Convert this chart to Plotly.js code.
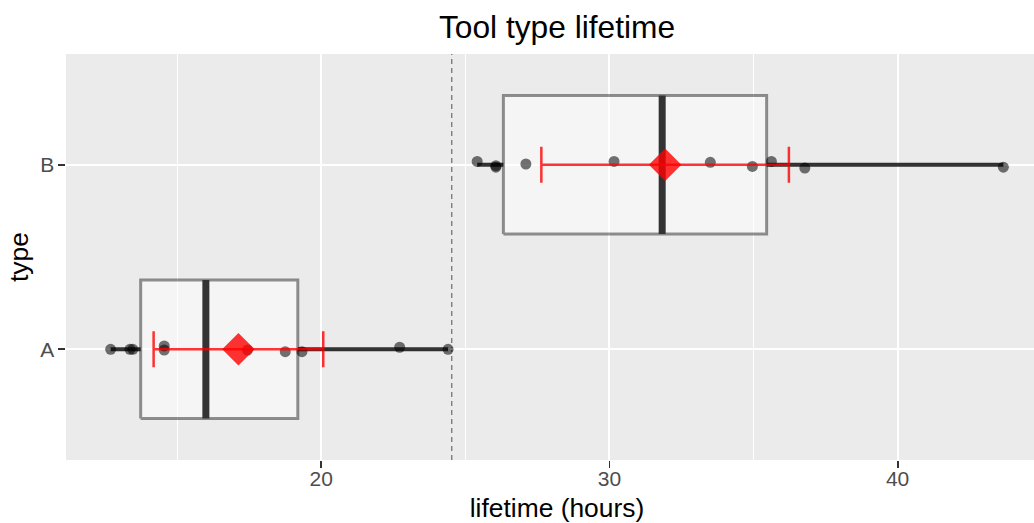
<!DOCTYPE html>
<html>
<head>
<meta charset="utf-8">
<script src="https://cdn.plot.ly/plotly-3.0.1.min.js"></script>
<style>
  html, body { margin: 0; padding: 0; overflow: hidden; background: #ffffff; }
  #chart { width: 1061px; height: 523px; }
</style>
</head>
<body>
<div id="chart"></div>
<script>
// Tool lifetimes (hours) for the two tool types
const categories = ['A', 'B'];
const lifetimeA = [12.69, 13.36, 13.46, 14.55, 14.55, 17.44, 18.75, 19.33, 22.72, 24.40];
const lifetimeB = [25.41, 26.06, 26.06, 27.10, 30.16, 33.50, 34.96, 35.62, 36.78, 43.67];
// vertical jitter of each observation (in category units)
const jitterA = [0, 0, 0, 0.018, -0.004, -0.004, -0.013, -0.013, 0.011, 0];
const jitterB = [0.018, -0.013, -0.005, 0.004, 0.018, 0.013, -0.009, 0.018, -0.018, -0.013];

const groups = [lifetimeA, lifetimeB];
const jitters = [jitterA, jitterB];

// Student t, 97.5% quantile with 9 degrees of freedom (n = 10 per type)
const T975_DF9 = 2.262157;

function quantile(sorted, p) {
  const h = (sorted.length - 1) * p;
  const lo = Math.floor(h);
  const hi = Math.min(lo + 1, sorted.length - 1);
  return sorted[lo] + (h - lo) * (sorted[hi] - sorted[lo]);
}
function mean(v) { return v.reduce((a, b) => a + b, 0) / v.length; }
function sd(v) {
  const m = mean(v);
  return Math.sqrt(v.reduce((a, b) => a + (b - m) * (b - m), 0) / (v.length - 1));
}
function boxStats(v) {
  const s = v.slice().sort((a, b) => a - b);
  const q1 = quantile(s, 0.25), med = quantile(s, 0.5), q3 = quantile(s, 0.75);
  const iqr = q3 - q1;
  const inside = s.filter(x => x >= q1 - 1.5 * iqr && x <= q3 + 1.5 * iqr);
  return { q1, med, q3, lo: inside[0], hi: inside[inside.length - 1] };
}

const HALF = 0.375; // half of the box thickness
const traces = [];

groups.forEach((vals, i) => {
  const y = i + 1;
  const b = boxStats(vals);
  // box body
  traces.push({
    type: 'scatter', mode: 'lines',
    x: [b.q1, b.q3, b.q3, b.q1, b.q1],
    y: [y - HALF, y - HALF, y + HALF, y + HALF, y - HALF],
    fill: 'toself', fillcolor: 'rgba(255,255,255,0.5)',
    line: { color: 'rgba(0,0,0,0.42)', width: 3 },
    hoverinfo: 'skip'
  });
  // whiskers
  traces.push({
    type: 'scatter', mode: 'lines',
    x: [b.lo, b.q1, null, b.q3, b.hi],
    y: [y, y, null, y, y],
    connectgaps: false,
    line: { color: 'rgba(0,0,0,0.8)', width: 4 },
    hoverinfo: 'skip'
  });
  // median
  traces.push({
    type: 'scatter', mode: 'lines',
    x: [b.med, b.med],
    y: [y - HALF, y + HALF],
    line: { color: '#333333', width: 7 },
    hoverinfo: 'skip'
  });
});

// individual observations
const px = [], py = [];
groups.forEach((vals, i) => {
  vals.forEach((v, k) => { px.push(v); py.push(i + 1 + jitters[i][k]); });
});
traces.push({
  type: 'scatter', mode: 'markers',
  x: px, y: py,
  marker: { color: 'rgba(0,0,0,0.55)', size: 11 },
  hoverinfo: 'skip'
});

// group means with 95% confidence intervals
const means = groups.map(mean);
const cis = groups.map(v => T975_DF9 * sd(v) / Math.sqrt(v.length));
traces.push({
  type: 'scatter', mode: 'markers',
  x: means, y: [1, 2],
  marker: { symbol: 'diamond', size: 25, color: 'rgba(255,0,0,0.8)' },
  error_x: { type: 'data', array: cis, symmetric: true, visible: true,
             color: 'rgba(255,0,0,0.8)', thickness: 2.5, width: 18 },
  hoverinfo: 'skip'
});

const all = lifetimeA.concat(lifetimeB);
const grandMean = mean(all);
const dmin = Math.min(...all), dmax = Math.max(...all);
const pad = 0.05 * (dmax - dmin);

const font = 'Liberation Sans, Arial, Helvetica, sans-serif';

const layout = {
  width: 1061, height: 523,
  margin: { l: 66, r: 13, t: 54, b: 63 },
  paper_bgcolor: '#ffffff',
  plot_bgcolor: '#ebebeb',
  showlegend: false,
  font: { family: font, color: '#000000' },
  title: {
    text: 'Tool type lifetime',
    font: { family: font, size: 31.7, color: '#000000' },
    x: 0.5, xref: 'paper', xanchor: 'center',
    y: 1 - 27 / 523, yref: 'container', yanchor: 'middle'
  },
  xaxis: {
    range: [dmin - pad, dmax + pad],
    tick0: 0, dtick: 10,
    ticks: 'outside', ticklen: 6.6, tickwidth: 1.8, tickcolor: '#333333',
    ticklabelstandoff: -7,
    tickfont: { family: font, size: 21, color: '#4d4d4d' },
    showgrid: true, gridcolor: '#ffffff', gridwidth: 2,
    minor: { dtick: 5, tick0: 0, showgrid: true, gridcolor: '#ffffff', gridwidth: 1, ticks: '' },
    zeroline: false, showline: false,
    title: { text: 'lifetime (hours)', font: { family: font, size: 26.4, color: '#000000' }, standoff: 12 },
    automargin: false
  },
  yaxis: {
    range: [0.4, 2.6],
    tickvals: [1, 2], ticktext: categories,
    ticks: 'outside', ticklen: 6.6, tickwidth: 1.8, tickcolor: '#333333',
    tickfont: { family: font, size: 21, color: '#4d4d4d' },
    showgrid: true, gridcolor: '#ffffff', gridwidth: 2,
    zeroline: false, showline: false,
    title: { text: 'type', font: { family: font, size: 26.4, color: '#000000' }, standoff: 3 },
    automargin: false
  },
  shapes: [{
    type: 'line', layer: 'between',
    xref: 'x', yref: 'paper',
    x0: grandMean, x1: grandMean, y0: 0, y1: 1,
    line: { color: 'rgba(0,0,0,0.6)', width: 1.1, dash: '5px,4px' }
  }]
};

Plotly.newPlot('chart', traces, layout, { staticPlot: true, displayModeBar: false });
</script>
</body>
</html>
